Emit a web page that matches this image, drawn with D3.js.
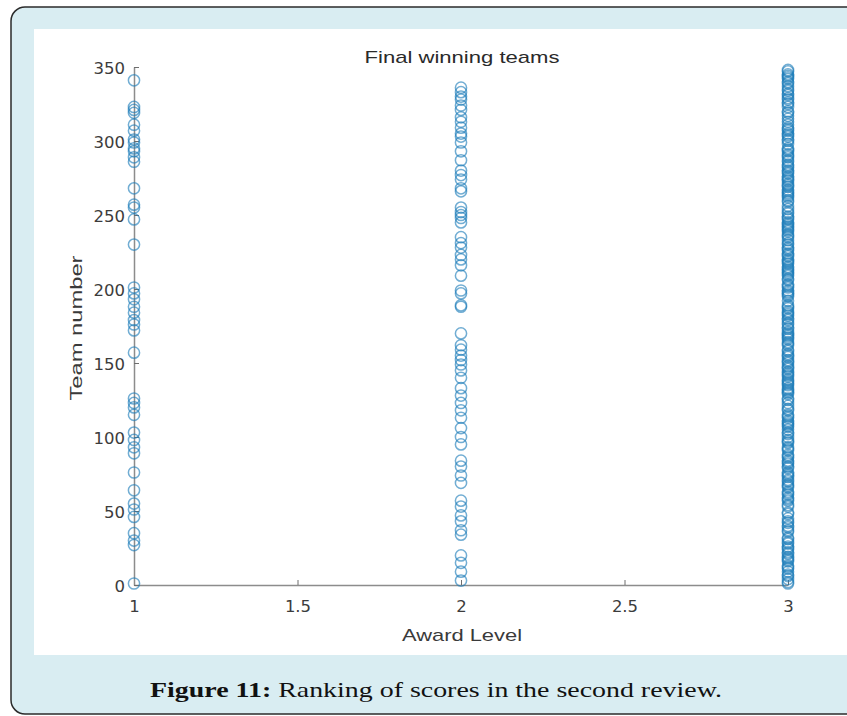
<!DOCTYPE html>
<html>
<head>
<meta charset="utf-8">
<script src="https://cdn.jsdelivr.net/npm/d3@7"></script>
<style>
  body { margin: 0; background: #fff; }
  svg { display: block; }
</style>
</head>
<body>
<div id="chart"></div>
<script>
const width = 847, height = 716;

// team numbers per award level
const level1 = [341, 323, 321, 319, 311, 307, 301, 299, 295, 293, 289, 286, 268, 257, 255, 247, 230,
  201, 197, 193, 188, 184, 179, 176, 172, 157, 126, 123, 120, 115, 103, 98, 93, 89, 76, 64, 55, 51,
  46, 35, 30, 27, 1];
const level2 = [336, 333, 330, 328, 324, 321, 316, 313, 309, 305, 303, 299, 293, 287, 280, 277, 274,
  268, 266, 255, 252, 250, 248, 245, 235, 231, 228, 223, 220, 216, 209, 199, 197, 189, 188, 170, 162,
  159, 155, 152, 149, 145, 140, 133, 128, 123, 118, 113, 106, 100, 95, 84, 80, 74, 69, 57, 53, 47,
  43, 37, 34, 20, 15, 9, 3];
const level3 = [1, 2, 4, 6, 7, 9, 11, 12, 13, 16, 17, 18, 19, 21, 22, 24, 25, 26, 28, 29, 31, 32, 36,
  37, 39, 40, 42, 43, 45, 48, 49, 53, 54, 57, 58, 59, 61, 62, 63, 66, 67, 68, 70, 71, 73, 74, 75, 76,
  79, 80, 82, 83, 84, 86, 87, 88, 91, 92, 93, 96, 97, 98, 100, 102, 103, 105, 107, 108, 109, 110,
  111, 113, 114, 115, 118, 119, 121, 123, 125, 126, 129, 130, 131, 132, 133, 135, 136, 137, 138, 139,
  141, 142, 143, 144, 146, 147, 148, 150, 151, 152, 154, 155, 156, 158, 159, 162, 163, 164, 166, 167,
  168, 169, 170, 171, 173, 174, 176, 177, 179, 180, 182, 183, 184, 185, 187, 188, 189, 192, 195, 196,
  197, 198, 199, 201, 202, 203, 206, 207, 209, 210, 211, 212, 213, 214, 215, 217, 218, 219, 220, 222,
  223, 224, 226, 227, 228, 230, 231, 233, 235, 236, 237, 239, 240, 241, 242, 243, 244, 245, 247, 248,
  249, 251, 252, 254, 256, 259, 260, 262, 263, 264, 265, 266, 267, 269, 270, 271, 273, 274, 275, 276,
  278, 279, 280, 282, 283, 284, 286, 287, 289, 290, 291, 293, 294, 295, 298, 300, 301, 303, 304, 305,
  307, 308, 309, 311, 313, 315, 317, 319, 320, 323, 325, 326, 328, 329, 331, 332, 334, 335, 337, 339,
  340, 342, 343, 344, 345, 347, 348];

const xTicks = [1, 1.5, 2, 2.5, 3];
const yTicks = [0, 50, 100, 150, 200, 250, 300, 350];

const points = [];
[[1, level1], [2, level2], [3, level3]].forEach(([lvl, arr]) => {
  arr.forEach(v => points.push({ level: lvl, team: v }));
});

const svg = d3.select("#chart")
  .append("svg")
    .attr("width", width)
    .attr("height", height);

// outer figure frame + white panel
svg.append("rect")
  .attr("x", 11).attr("y", 7)
  .attr("width", 900).attr("height", 707)
  .attr("rx", 14)
  .attr("fill", "#d9edf2")
  .attr("stroke", "#2b2b2b")
  .attr("stroke-width", 1.5);

svg.append("rect")
  .attr("x", 34).attr("y", 29)
  .attr("width", 830).attr("height", 626)
  .attr("fill", "#fff");

const x = d3.scaleLinear().domain([1, 3]).range([134, 788]);
const y = d3.scaleLinear().domain([0, 350]).range([585, 67]);

const xAxis = d3.axisBottom(x)
  .tickValues(xTicks)
  .tickFormat(d3.format(""))
  .tickSizeInner(-5)
  .tickSizeOuter(0)
  .tickPadding(15);

const yAxis = d3.axisLeft(y)
  .tickValues(yTicks)
  .tickSizeInner(-5)
  .tickSizeOuter(0)
  .tickPadding(9);

const gx = svg.append("g")
  .attr("transform", `translate(0,${y(0)})`)
  .call(xAxis);

const gy = svg.append("g")
  .attr("transform", `translate(${x(1)},0)`)
  .call(yAxis);

[gx, gy].forEach(g => {
  g.select(".domain").attr("stroke", "#8c8c8c").attr("stroke-width", 1.5);
  g.selectAll(".tick line").attr("stroke", "#6e6e6e");
  g.selectAll(".tick text")
    .attr("fill", "#3c3c3c")
    .style("font-family", "'DejaVu Sans', sans-serif")
    .style("font-size", "16.5px");
});
gy.selectAll(".tick text").attr("dy", "0.4em");

// markers
svg.append("g")
  .selectAll("circle")
  .data(points)
  .join("circle")
    .attr("cx", d => x(d.level))
    .attr("cy", d => y(d.team))
    .attr("r", 5.6)
    .attr("fill", "none")
    .attr("stroke", "#1a7ab8")
    .attr("stroke-opacity", 0.62)
    .attr("stroke-width", 1.5);

const labelFont = "'Liberation Sans', Arial, sans-serif";

svg.append("text")
  .attr("x", 462).attr("y", 63)
  .attr("text-anchor", "middle")
  .attr("textLength", 195)
  .attr("lengthAdjust", "spacingAndGlyphs")
  .style("font-family", labelFont)
  .style("font-size", "17px")
  .attr("fill", "#2a2a2a")
  .text("Final winning teams");

svg.append("text")
  .attr("x", 462).attr("y", 641)
  .attr("text-anchor", "middle")
  .attr("textLength", 120)
  .attr("lengthAdjust", "spacingAndGlyphs")
  .style("font-family", labelFont)
  .style("font-size", "17px")
  .attr("fill", "#3a3a3a")
  .text("Award Level");

svg.append("text")
  .attr("transform", "translate(82,328) rotate(-90)")
  .attr("text-anchor", "middle")
  .attr("textLength", 145)
  .attr("lengthAdjust", "spacingAndGlyphs")
  .style("font-family", labelFont)
  .style("font-size", "17px")
  .attr("fill", "#3a3a3a")
  .text("Team number");

// caption
const cap = svg.append("text")
  .attr("x", 436).attr("y", 697)
  .attr("text-anchor", "middle")
  .attr("textLength", 572)
  .attr("lengthAdjust", "spacingAndGlyphs")
  .style("font-family", "'Liberation Serif', 'DejaVu Serif', serif")
  .style("font-size", "22px")
  .attr("fill", "#111");
cap.append("tspan").style("font-weight", "bold").text("Figure 11:");
cap.append("tspan").text(" Ranking of scores in the second review.");
</script>
</body>
</html>
